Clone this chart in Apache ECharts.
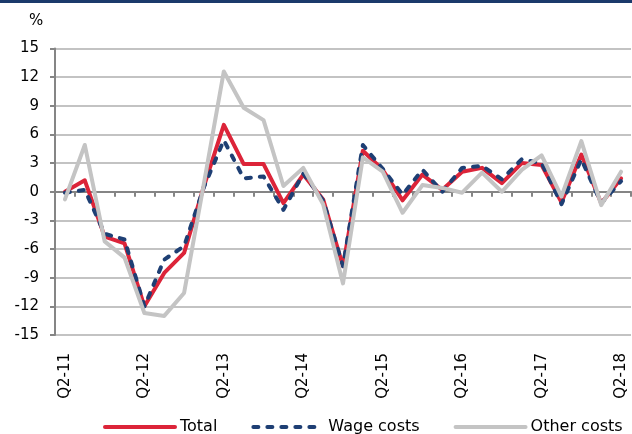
<!DOCTYPE html>
<html>
<head>
<meta charset="utf-8">
<script src="https://cdn.jsdelivr.net/npm/echarts@6/dist/echarts.min.js"></script>
<style>
html,body{margin:0;padding:0;background:#fff;}
#chart{width:632px;height:434px;}
</style>
</head>
<body>
<div id="chart"></div>
<script>
var categories = ['Q2-11','Q3-11','Q4-11','Q1-12','Q2-12','Q3-12','Q4-12','Q1-13','Q2-13','Q3-13','Q4-13','Q1-14','Q2-14','Q3-14','Q4-14','Q1-15','Q2-15','Q3-15','Q4-15','Q1-16','Q2-16','Q3-16','Q4-16','Q1-17','Q2-17','Q3-17','Q4-17','Q1-18','Q2-18'];
var total = [0.0, 1.2, -4.7, -5.4, -12.0, -8.5, -6.4, 0.6, 7.0, 2.9, 2.9, -1.2, 1.8, -0.8, -7.8, 4.3, 2.3, -0.9, 1.8, 0.2, 2.1, 2.5, 0.9, 3.0, 2.8, -1.1, 3.9, -1.2, 1.4];
var wageCosts = [-0.1, 0.2, -4.4, -5.0, -12.0, -7.1, -5.7, 0.5, 5.4, 1.4, 1.6, -1.9, 1.9, -0.9, -7.8, 4.9, 2.4, -0.3, 2.3, 0.0, 2.5, 2.7, 1.3, 3.4, 3.0, -1.3, 3.4, -1.2, 1.1];
var otherCosts = [-0.8, 4.9, -5.2, -6.9, -12.7, -13.0, -10.6, 0.9, 12.6, 8.8, 7.5, 0.6, 2.5, -1.3, -9.6, 3.6, 2.1, -2.2, 0.7, 0.4, -0.1, 2.0, 0.0, 2.3, 3.8, -0.5, 5.3, -1.4, 2.1];
var seriesNames = ['Total', 'Wage costs', 'Other costs'];
var yUnit = '%';

var FONT = 'DejaVu Sans';
var chart = echarts.init(document.getElementById('chart'), null, {renderer: 'canvas'});
chart.setOption({
  animation: false,
  backgroundColor: '#ffffff',
  textStyle: {fontFamily: FONT},
  graphic: [
    {type: 'rect', left: 0, top: 0, shape: {width: 632, height: 3}, style: {fill: '#1B3A6B'}},
    {type: 'text', left: 29, top: 14, style: {text: yUnit, font: '15px "DejaVu Sans"', fill: '#000'}}
  ],
  grid: {left: 55, right: 1, top: 48.5, bottom: 99, containLabel: false},
  legend: {
    data: seriesNames,
    left: 98, top: 414,
    itemWidth: 70, itemHeight: 14, itemGap: 34,
    itemStyle: {opacity: 0},
    lineStyle: {width: 4},
    textStyle: {fontSize: 16, color: '#000', fontFamily: FONT}
  },
  xAxis: [
    {
      type: 'category', data: categories, position: 'bottom', boundaryGap: true,
      axisLine: {show: false, onZero: false}, axisTick: {show: false},
      axisLabel: {rotate: 90, interval: 3, margin: 18, fontSize: 15, color: '#000', fontFamily: FONT},
      splitLine: {show: false}
    },
    {
      type: 'category', data: categories, position: 'bottom', boundaryGap: true,
      axisLine: {show: true, onZero: true, lineStyle: {color: '#858585', width: 2}},
      axisTick: {show: true, interval: 0, length: 5, lineStyle: {color: '#858585', width: 2}},
      axisLabel: {show: false}, splitLine: {show: false}
    }
  ],
  yAxis: {
    type: 'value', min: -15, max: 15, interval: 3,
    axisLine: {show: true, lineStyle: {color: '#858585', width: 2}},
    axisTick: {show: true, length: 5, lineStyle: {color: '#858585', width: 2}},
    axisLabel: {margin: 16, fontSize: 15, color: '#000', fontFamily: FONT},
    splitLine: {show: true, lineStyle: {color: '#C3C3C3', width: 2}}
  },
  series: [
    {name: seriesNames[0], type: 'line', data: total, xAxisIndex: 0, symbol: 'none', color: '#DC2439',
     lineStyle: {width: 4, color: '#DC2439', cap: 'round', join: 'round'}},
    {name: seriesNames[1], type: 'line', data: wageCosts, xAxisIndex: 0, symbol: 'none', color: '#1E3F74',
     lineStyle: {width: 4, color: '#1E3F74', type: [5, 9], cap: 'round', join: 'round'}},
    {name: seriesNames[2], type: 'line', data: otherCosts, xAxisIndex: 0, symbol: 'none', color: '#C4C4C4',
     lineStyle: {width: 4, color: '#C4C4C4', cap: 'round', join: 'round'}}
  ]
});
</script>
</body>
</html>
